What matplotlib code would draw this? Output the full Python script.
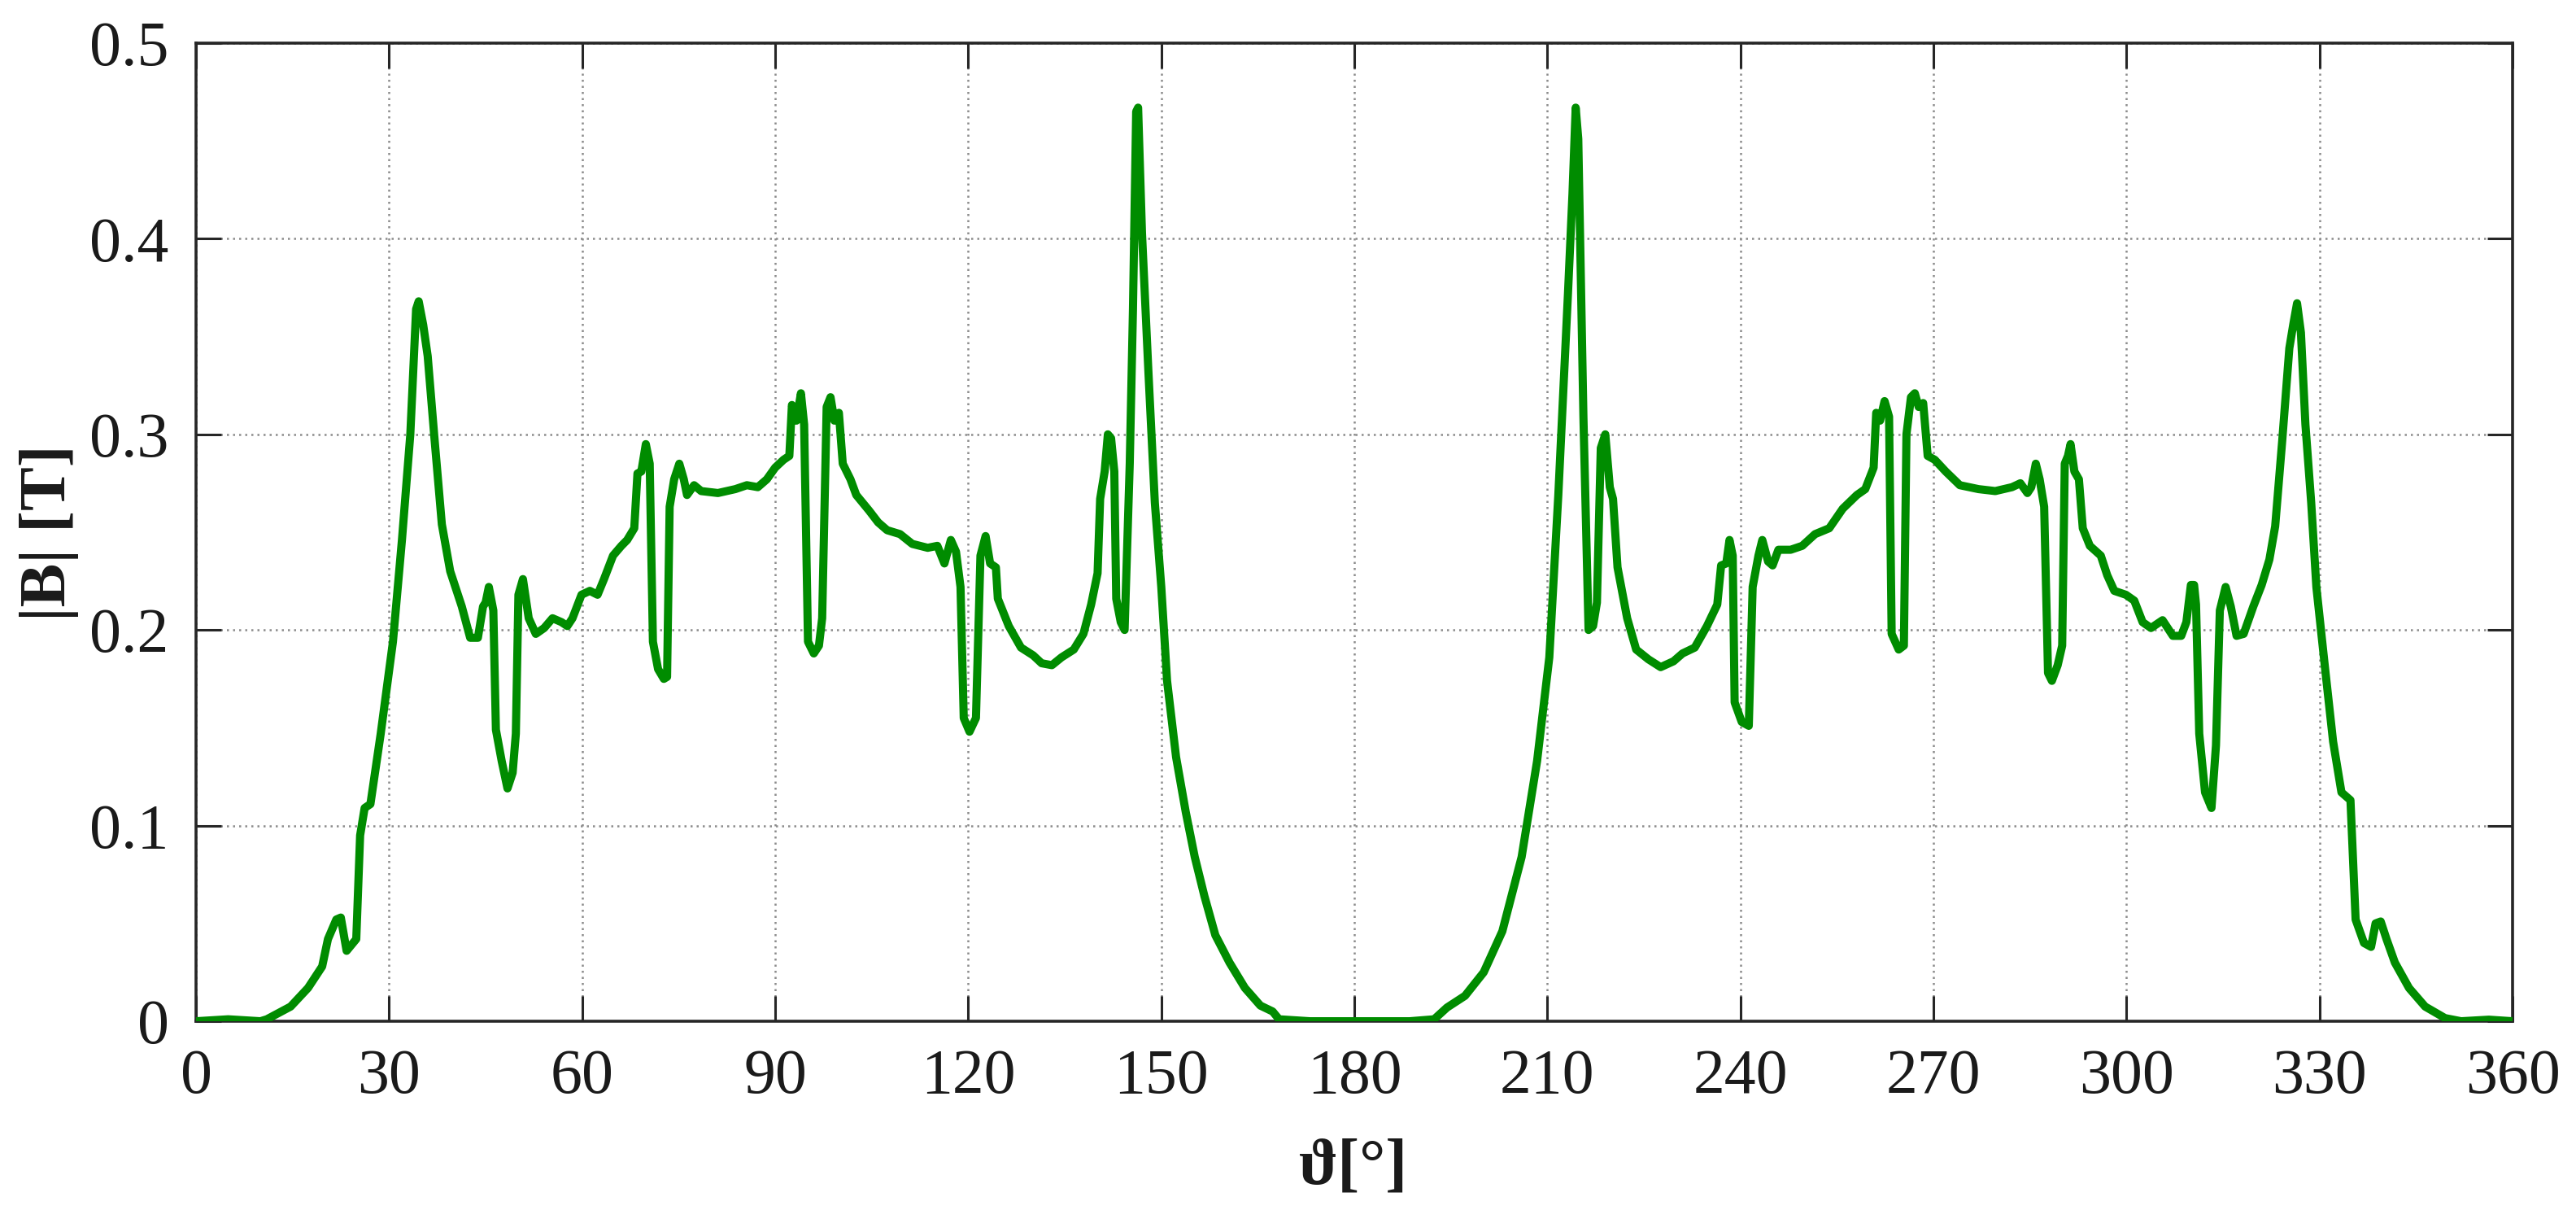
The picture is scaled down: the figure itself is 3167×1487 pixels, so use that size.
import numpy as np
import matplotlib
matplotlib.use("Agg")
import matplotlib.pyplot as plt

# rotor angle [deg] and flux density magnitude [T]
theta_a = [0, 5, 10, 11, 14.7, 17.4, 19.6, 20.5, 21.8, 22.5, 23.4, 24.9, 25.5, 26.2, 27.1, 28.7,
           30.6, 32, 33.3, 34.2, 34.6, 35.3, 36, 37, 38.2, 39.5, 41.3, 42.6, 43.8, 44.6, 45, 45.5,
           46.2, 46.6, 47.5, 48.4, 49.2, 49.7, 50.1, 50.8, 51.7, 52.8, 54.1, 55.4, 56.8, 57.7, 58.5,
           59.9, 61.2, 62.4, 63.4, 64.8, 66.1, 67, 68.1, 68.6, 69.2, 69.9, 70.5, 71, 71.8, 72.7, 73.2,
           73.6, 74.3, 75.1, 75.8, 76.3, 77.4, 78.5, 81.1, 83.8, 85.6, 87.3, 88.7, 90, 91.3, 92.2,
           92.6, 93.3, 94, 94.5, 95.1, 96, 96.8, 97.3, 98, 98.6, 99.2, 99.9, 100.5, 101.7, 102.6,
           104.6, 106, 107.4, 109.4, 111.3, 113.7, 115.2, 116.3, 117.3, 118.1, 118.8, 119.3, 120.2,
           121.2, 121.9, 122.7, 123.4, 124.3, 124.6, 126.3, 128.2, 130.1, 131.4, 133, 134.5, 136.4,
           137.9, 139.1, 140.1, 140.5, 141.2, 141.7, 142.2, 142.7, 143, 143.7, 144.3, 145.1, 145.6,
           146.1, 146.4, 147, 148, 149, 150, 150.9, 152.3, 153.8, 155.2, 156.7, 158.4, 160.6, 163,
           165.4, 167.3, 168.3, 173.1]
b_a = [0, 0.001, 0, 0.001, 0.0075, 0.017, 0.028, 0.042, 0.052, 0.053, 0.036, 0.042, 0.095, 0.109,
       0.111, 0.147, 0.194, 0.246, 0.30, 0.364, 0.368, 0.356, 0.34, 0.30, 0.254, 0.23, 0.212, 0.196,
       0.196, 0.212, 0.214, 0.222, 0.21, 0.149, 0.133, 0.119, 0.127, 0.147, 0.218, 0.226, 0.206,
       0.198, 0.201, 0.206, 0.204, 0.202, 0.206, 0.218, 0.22, 0.218, 0.226, 0.238, 0.243, 0.246,
       0.252, 0.28, 0.281, 0.295, 0.285, 0.194, 0.18, 0.175, 0.176, 0.263, 0.277, 0.285, 0.277,
       0.269, 0.274, 0.271, 0.27, 0.272, 0.274, 0.273, 0.277, 0.283, 0.287, 0.289, 0.315, 0.307,
       0.321, 0.305, 0.194, 0.188, 0.192, 0.206, 0.314, 0.319, 0.307, 0.311, 0.285, 0.277, 0.269,
       0.261, 0.255, 0.251, 0.249, 0.244, 0.242, 0.243, 0.234, 0.246, 0.240, 0.222, 0.155, 0.148,
       0.155, 0.238, 0.248, 0.234, 0.232, 0.216, 0.202, 0.191, 0.187, 0.183, 0.182, 0.186, 0.19,
       0.198, 0.213, 0.229, 0.267, 0.281, 0.30, 0.298, 0.281, 0.216, 0.204, 0.20, 0.285, 0.364,
       0.465, 0.467, 0.403, 0.332, 0.265, 0.222, 0.174, 0.135, 0.107, 0.084, 0.064, 0.044, 0.030,
       0.017, 0.008, 0.005, 0.001, 0]

theta_b = [180, 188.6, 192.4, 194.4, 197.2, 200.1, 203, 206, 208.4, 210.3, 211.7, 213.2, 213.9,
           214.4, 214.8, 215.6, 216.4, 217.1, 217.7, 218.3, 219, 219.7, 220.2, 220.9, 222.4, 223.8,
           225.7, 227.6, 229.6, 231, 232.9, 234.8, 236.4, 237, 237.8, 238.3, 238.8, 239.1, 240.2,
           241.3, 241.9, 242.8, 243.4, 244.3, 245, 245.9, 247.8, 249.6, 251.6, 253.8, 255.9, 258.1,
           259.4, 260.7, 261.1, 261.7, 262.4, 263.1, 263.5, 264.6, 265.4, 265.8, 266.5, 267.1, 267.7,
           268.4, 269.1, 270.2, 271.9, 274.1, 277, 279.6, 282.2, 283.5, 284.6, 285.2, 285.9, 286.5,
           287.2, 287.8, 288.4, 289.3, 290, 290.4, 290.9, 291.3, 291.9, 292.6, 293.2, 294.3, 296,
           297, 298.1, 299.9, 301.2, 302.5, 303.8, 305.6, 307.2, 308.5, 309.3, 310, 310.5, 310.8,
           311.3, 312.2, 313.2, 313.9, 314.5, 315.4, 316.2, 317.1, 318.2, 319.7, 321, 322.2, 323.1,
           324.2, 325.3, 325.9, 326.5, 327.1, 327.8, 328.7, 329.5, 330.8, 332.1, 333.4, 334.8, 335.6,
           336.9, 338, 338.7, 339.5, 340.4, 341.7, 343.9, 346.4, 349.5, 352, 356.3, 360]
b_b = [0, 0, 0.001, 0.007, 0.013, 0.025, 0.046, 0.084, 0.133, 0.186, 0.269, 0.372, 0.423, 0.467,
       0.451, 0.309, 0.20, 0.202, 0.214, 0.293, 0.30, 0.273, 0.267, 0.232, 0.206, 0.19, 0.185,
       0.181, 0.184, 0.188, 0.191, 0.202, 0.213, 0.233, 0.234, 0.246, 0.238, 0.163, 0.153, 0.151,
       0.222, 0.238, 0.246, 0.235, 0.233, 0.241, 0.241, 0.243, 0.249, 0.252, 0.262, 0.269, 0.272,
       0.283, 0.311, 0.307, 0.317, 0.309, 0.198, 0.19, 0.192, 0.30, 0.319, 0.321, 0.314, 0.316,
       0.289, 0.287, 0.281, 0.274, 0.272, 0.271, 0.273, 0.275, 0.27, 0.273, 0.285, 0.277, 0.263,
       0.178, 0.174, 0.182, 0.192, 0.285, 0.289, 0.295, 0.281, 0.277, 0.252, 0.243, 0.238, 0.228,
       0.22, 0.218, 0.215, 0.204, 0.201, 0.205, 0.197, 0.197, 0.204, 0.223, 0.223, 0.213, 0.147,
       0.117, 0.109, 0.141, 0.21, 0.222, 0.212, 0.197, 0.198, 0.212, 0.223, 0.236, 0.253, 0.297,
       0.344, 0.356, 0.367, 0.352, 0.305, 0.265, 0.222, 0.182, 0.143, 0.117, 0.113, 0.052, 0.040,
       0.038, 0.050, 0.051, 0.042, 0.030, 0.017, 0.0075, 0.0016, 0, 0.0008, 0]

x_ticks = np.arange(0, 361, 30)
y_ticks = [0, 0.1, 0.2, 0.3, 0.4, 0.5]
y_ticklabels = ["0", "0.1", "0.2", "0.3", "0.4", "0.5"]

theta = np.array(theta_a + theta_b)
b_mag = np.array(b_a + b_b)

plt.rcParams["font.family"] = ["Liberation Serif", "DejaVu Serif"]

fig = plt.figure(figsize=(31.67, 14.87), dpi=100)
ax = fig.add_axes([0.0761, 0.156, 0.8993, 0.8084])

ax.plot(theta, b_mag, color="#008c00", linewidth=7.2,
        solid_joinstyle="round", solid_capstyle="round", zorder=3)

ax.set_xlim(0, 360)
ax.set_ylim(0, 0.5)
ax.set_xticks(x_ticks)
ax.set_yticks(y_ticks)
ax.set_yticklabels(y_ticklabels)
ax.tick_params(direction="in", length=22, width=2.2, color="#262626",
               top=True, right=True, labelsize=56, pad=24, labelcolor="#1a1a1a")
ax.tick_params(axis="x", pad=24)
ax.grid(True, linestyle=(0, (1, 2)), color="#8c8c8c", linewidth=1.8)
for sp in ax.spines.values():
    sp.set_linewidth(2.6)
    sp.set_color("#262626")

# axis titles placed where the reference has them
fig.text(0.5254, 0.035, "ϑ[°]", fontsize=58, fontweight="bold",
         ha="center", va="center", color="#1a1a1a")
fig.text(0.019, 0.5595, "|B| [T]", fontsize=58, fontweight="bold",
         rotation=90, ha="center", va="center", color="#1a1a1a")

fig.savefig("out.png", dpi=100)
